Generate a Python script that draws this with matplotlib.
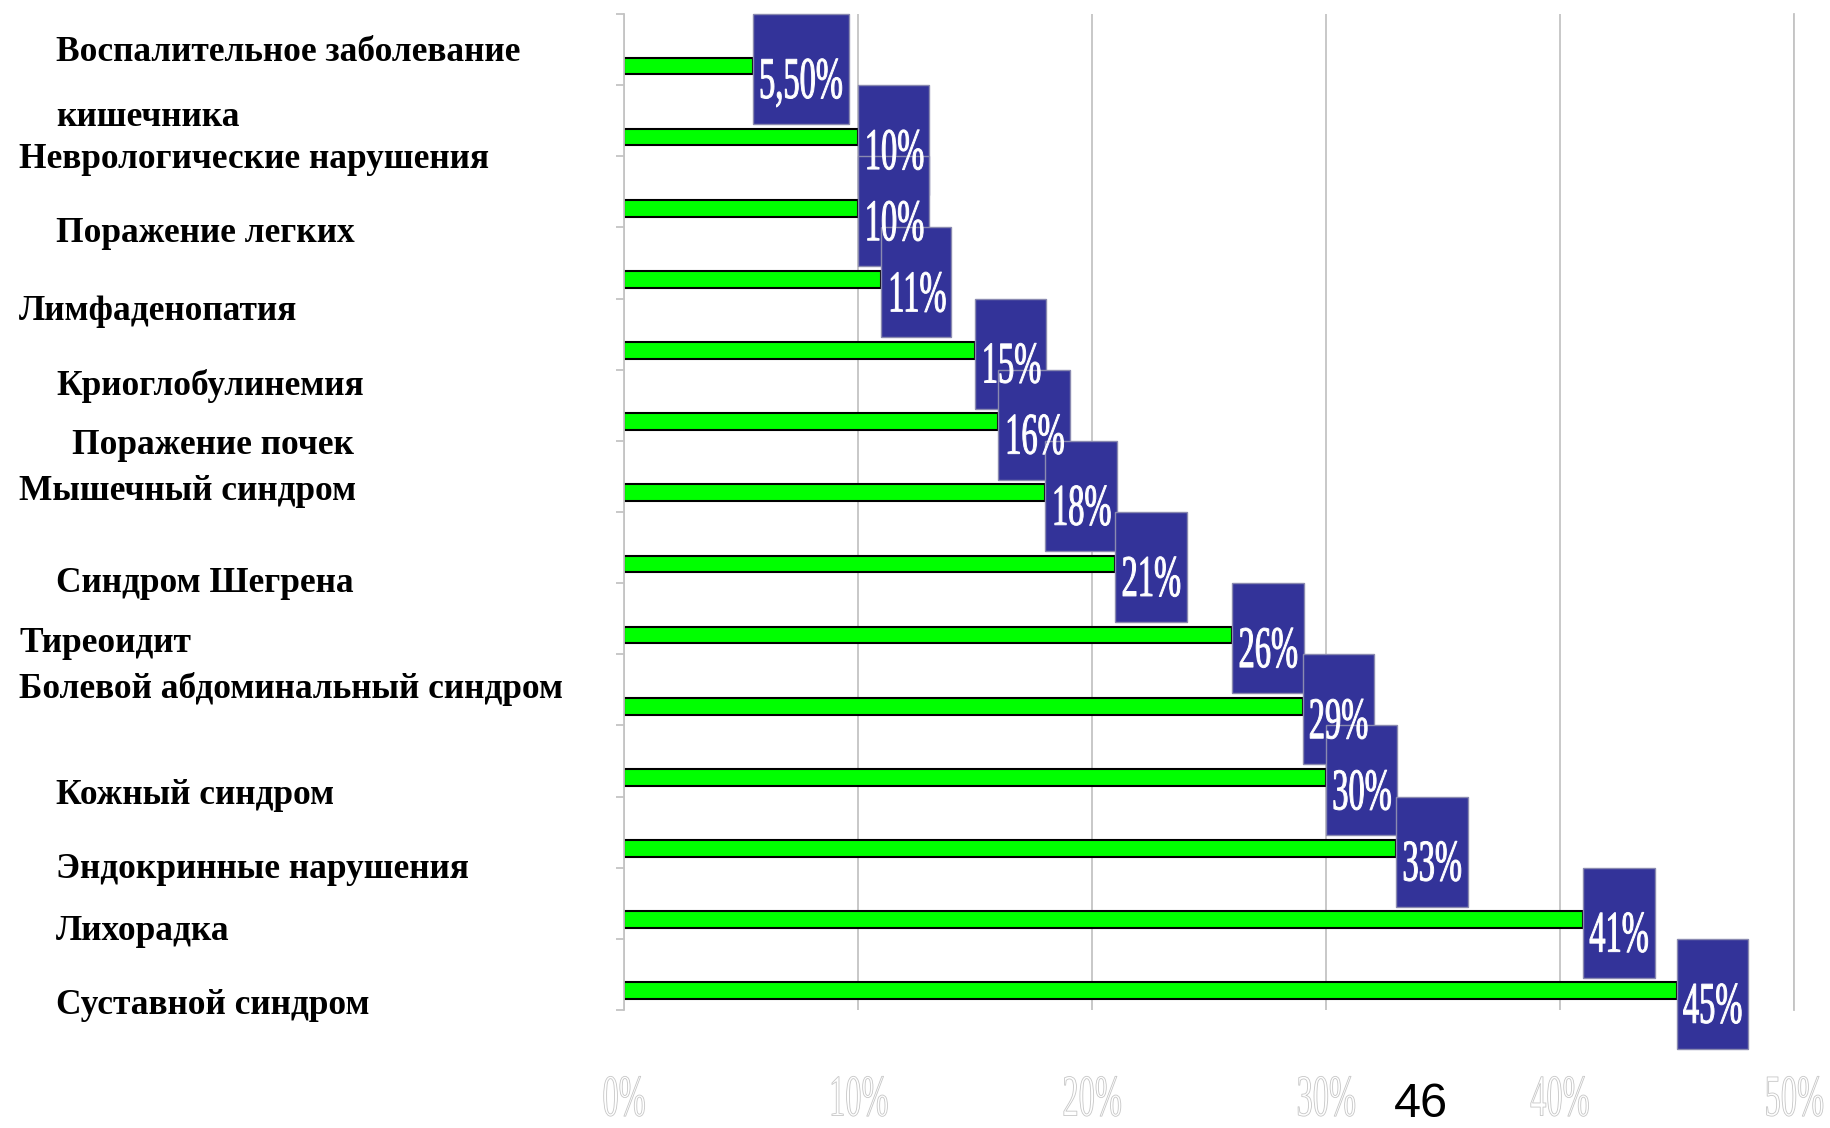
import numpy as np
import matplotlib
matplotlib.use('Agg')
import matplotlib.pyplot as plt
import matplotlib.patheffects as pe
import matplotlib.transforms as mtransforms
import matplotlib.colors as mcolors
from matplotlib.patches import Rectangle
from matplotlib.font_manager import FontProperties

plt.rcParams['font.family'] = ['Liberation Serif', 'DejaVu Serif']

# data, top to bottom
categories = [
    'Воспалительное заболевание\nкишечника',
    'Неврологические нарушения',
    'Поражение легких',
    'Лимфаденопатия',
    'Криоглобулинемия',
    'Поражение почек',
    'Мышечный синдром',
    'Синдром Шегрена',
    'Тиреоидит',
    'Болевой абдоминальный синдром',
    'Кожный синдром',
    'Эндокринные нарушения',
    'Лихорадка',
    'Суставной синдром',
]
values = [5.5, 10, 10, 11, 15, 16, 18, 21, 26, 29, 30, 33, 41, 45]
value_labels = ['5,50%', '10%', '10%', '11%', '15%', '16%', '18%', '21%',
                '26%', '29%', '30%', '33%', '41%', '45%']
tick_values = [0, 10, 20, 30, 40, 50]
tick_labels = ['0%', '10%', '20%', '30%', '40%', '50%']
page_number = '46'

# hand placed category labels (left x, centre y) in pixels of the 1830x1128 page
label_pos = [(56, 85), (19, 159), (56, 234), (19, 311), (56, 386), (72, 446),
             (19, 492), (56, 583), (19, 644), (19, 689), (56, 795), (56, 870),
             (56, 932), (56, 1005)]

W, H = 1830, 1128
BAR_COLOR = '#00ff00'
BOX_COLOR = '#333399'
GRID_COLOR = '#c4c4c4'


class Squeeze(pe.AbstractPathEffect):
    """Draw text narrowed horizontally, like a condensed face."""

    def __init__(self, sx=0.55, facecolor=None, edgecolor=None, linewidth=0.0):
        super().__init__()
        self.sx = sx
        self.facecolor = facecolor
        self.edgecolor = edgecolor
        self.linewidth = linewidth

    def draw_path(self, renderer, gc, tpath, affine, rgbFace=None):
        bb = tpath.get_extents(affine)
        cx = (bb.x0 + bb.x1) / 2
        aff = affine + mtransforms.Affine2D().translate(-cx, 0).scale(self.sx, 1).translate(cx, 0)
        gc0 = renderer.new_gc()
        gc0.copy_properties(gc)
        face = rgbFace if self.facecolor is None else mcolors.to_rgba(self.facecolor)
        if self.edgecolor is not None:
            gc0.set_foreground(self.edgecolor)
            gc0.set_linewidth(self.linewidth)
        renderer.draw_path(gc0, tpath, aff, face)
        gc0.restore()


def plot_chart():
    fig = plt.figure(figsize=(W / 100, H / 100), dpi=100)
    fig.patch.set_facecolor('white')
    ax = fig.add_axes([624 / W, 1 - 1010 / H, (1794 - 624) / W, (1010 - 14) / H])

    n = len(values)
    y = np.arange(n) + 0.73
    ax.barh(y, values, height=0.235, color=BAR_COLOR, edgecolor='black',
            linewidth=1.5, zorder=2)

    ax.set_xlim(0, 50)
    ax.set_ylim(n, 0)
    ax.set_axisbelow(True)
    ax.grid(True, axis='x', color=GRID_COLOR, linewidth=1.3)

    for s in ['top', 'bottom']:
        ax.spines[s].set_visible(False)
    for s in ['left', 'right']:
        ax.spines[s].set_color(GRID_COLOR)
        ax.spines[s].set_linewidth(1.3)

    ax.set_yticks(np.arange(n + 1))
    ax.set_yticklabels([])
    ax.tick_params(axis='y', length=6, width=1.3, color=GRID_COLOR)

    ax.set_xticks(tick_values, tick_labels, fontsize=42.5)
    ax.tick_params(axis='x', length=0, pad=46.5)
    for lbl in ax.get_xticklabels():
        lbl.set_path_effects([Squeeze(0.55, facecolor='white',
                                      edgecolor='#c6c6c6', linewidth=0.6)])

    # value boxes
    renderer = fig.canvas.get_renderer()
    prop = FontProperties(family='Liberation Serif', size=42.5)
    box_h = 110
    for v, yc, s in zip(values, y, value_labels):
        tw, th, td = renderer.get_text_width_height_descent(s, prop, ismath=False)
        box_w = tw * 0.55 + 12
        trans = mtransforms.Affine2D().translate(0, -3) + \
            mtransforms.ScaledTranslation(v, yc, ax.transData)
        rect = Rectangle((0, -box_h / 2), box_w, box_h, transform=trans,
                         facecolor=BOX_COLOR, edgecolor='#8a8ab0', linewidth=1.0,
                         zorder=3, clip_on=False)
        ax.add_patch(rect)
        t = ax.annotate(s, xy=(v, yc), xytext=(box_w / 2, -32),
                        textcoords='offset pixels', ha='center', va='baseline',
                        fontsize=42.5, color='white', zorder=4,
                        annotation_clip=False)
        t.set_path_effects([Squeeze(0.55, edgecolor='white', linewidth=0.7)])

    # category labels
    for (lx, ly), name in zip(label_pos, categories):
        fig.text(lx / W, 1 - ly / H, name, ha='left', va='center',
                 fontsize=25.5, fontweight='bold', color='black', linespacing=2.3)

    fig.text(1421 / W, 1 - 1117 / H, page_number, ha='center', va='baseline',
             fontsize=35, family='Liberation Sans', color='black')

    fig.savefig('out.png', dpi=100, facecolor='white')
    plt.close(fig)


def main():
    plot_chart()


if __name__ == '__main__':
    main()
